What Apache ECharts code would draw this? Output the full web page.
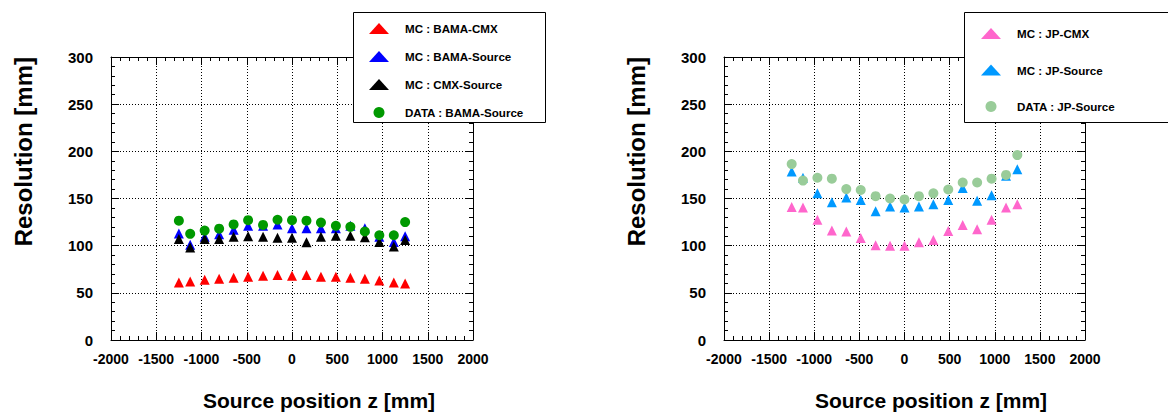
<!DOCTYPE html>
<html>
<head>
<meta charset="utf-8">
<script src="https://cdn.jsdelivr.net/npm/echarts@6/dist/echarts.min.js"></script>
<style>
html,body{margin:0;padding:0;background:#fff;}
#chart{width:1168px;height:412px;}
</style>
</head>
<body>
<div id="chart"></div>
<script>
// ---- data ----
const zPositions = [-1250, -1125, -965, -805, -645, -485, -320, -160, 0, 160, 320, 485, 645, 805, 965, 1125, 1250];

const mcBamaCmx    = [61, 62, 64, 65, 66, 67, 68, 69, 68, 69, 67, 67, 66, 65, 63, 61, 60];
const mcBamaSource = [113, 101, 109.5, 112, 117, 121, 121, 122.5, 118.5, 118.5, 118.5, 118.5, 121, 118.5, 109.5, 104, 110];
const mcCmxSource  = [107, 98, 107, 107, 109.5, 110, 109.5, 108.5, 108.5, 103.5, 109.5, 110.5, 110.5, 109, 104, 99, 106];
const dataBamaSource = [126.5, 112.5, 116, 118, 122.5, 127, 122, 127.5, 127, 126.5, 124.5, 121, 120, 115, 111, 111, 125];

const mcJpCmx     = [141, 140.5, 127.5, 116, 115, 108, 100.5, 100, 100, 103.5, 106, 115.5, 122, 117.5, 127.5, 140.5, 144];
const mcJpSource  = [178.5, 172, 155.5, 146, 151, 148.5, 136.5, 141.5, 140.5, 141.5, 144, 148.5, 161, 147.5, 153.5, 174, 181];
const dataJpSource = [186.5, 169, 172, 171, 160, 159, 152.5, 150, 149, 152.5, 155.5, 159.5, 167, 167, 171, 175, 196];

const leftNames  = ['MC : BAMA-CMX', 'MC : BAMA-Source', 'MC : CMX-Source', 'DATA : BAMA-Source'];
const rightNames = ['MC : JP-CMX', 'MC : JP-Source', 'DATA : JP-Source'];
const xTitle = 'Source position z [mm]';
const yTitle = 'Resolution [mm]';
const xMin = -2000, xMax = 2000, xStep = 500;
const yMin = 0, yMax = 300, yStep = 50;

// ---- chart ----
const FONT = 'Liberation Sans, Arial, sans-serif';
const pairs = vals => zPositions.map((z, i) => [z, vals[i]]);

function xAx(gi, pos, labels) {
  return {
    type: 'value', gridIndex: gi, position: pos, min: xMin, max: xMax, interval: xStep,
    axisLine: {show: true, onZero: false, lineStyle: {color: '#000', width: 1}},
    axisTick: {show: true, inside: true, length: 8, lineStyle: {color: '#000'}},
    minorTick: {show: true, splitNumber: 5, length: 4, lineStyle: {color: '#000'}},
    axisLabel: {show: labels, color: '#000', fontFamily: FONT, fontWeight: 'bold', fontSize: 14, margin: 12,
                showMinLabel: true, showMaxLabel: true, formatter: v => String(v)},
    splitLine: {show: labels, lineStyle: {color: '#000', type: [1, 2], width: 1}},
    minorSplitLine: {show: false}
  };
}
function yAx(gi, pos, labels) {
  return {
    type: 'value', gridIndex: gi, position: pos, min: yMin, max: yMax, interval: yStep,
    axisLine: {show: true, onZero: false, lineStyle: {color: '#000', width: 1}},
    axisTick: {show: true, inside: true, length: 8, lineStyle: {color: '#000'}},
    minorTick: {show: true, splitNumber: 5, length: 4, lineStyle: {color: '#000'}},
    axisLabel: {show: labels, color: '#000', fontFamily: FONT, fontWeight: 'bold', fontSize: 15, margin: 18,
                formatter: v => String(v)},
    splitLine: {show: labels, lineStyle: {color: '#000', type: [1, 2], width: 1}},
    minorSplitLine: {show: false}
  };
}
function sc(name, vals, gi, symbol, color) {
  return {
    type: 'scatter', name, data: pairs(vals), xAxisIndex: gi, yAxisIndex: gi,
    symbol, symbolSize: 10, itemStyle: {color, opacity: 1}, silent: true
  };
}

const chart = echarts.init(document.getElementById('chart'), null, {renderer: 'svg'});
const legendText = {color: '#000', fontFamily: FONT, fontWeight: 'bold', fontSize: 11.6, padding: [0, 0, 0, 11]};

chart.setOption({
  animation: false,
  backgroundColor: '#fff',
  grid: [
    {left: 111, top: 57, width: 362, height: 283},
    {left: 724, top: 57, width: 361, height: 283}
  ],
  xAxis: [xAx(0, 'bottom', true), xAx(1, 'bottom', true), xAx(0, 'top', false), xAx(1, 'top', false)],
  yAxis: [yAx(0, 'left', true), yAx(1, 'left', true), yAx(0, 'right', false), yAx(1, 'right', false)],
  legend: [
    {data: leftNames.map((n, i) => ({name: n, icon: i === 3 ? 'circle' : 'triangle'})),
     orient: 'vertical', left: 369, top: 22.5, itemWidth: 20, itemHeight: 11, itemGap: 16,
     padding: 0, selectedMode: false, textStyle: legendText, z: 60},
    {data: rightNames.map((n, i) => ({name: n, icon: i === 2 ? 'circle' : 'triangle'})),
     orient: 'vertical', left: 981, top: 27.5, itemWidth: 20, itemHeight: 11, itemGap: 24.5,
     padding: 0, selectedMode: false, textStyle: legendText, z: 60}
  ],
  series: [
    sc(leftNames[0], mcBamaCmx, 0, 'triangle', '#ff0000'),
    sc(leftNames[1], mcBamaSource, 0, 'triangle', '#0000ff'),
    sc(leftNames[2], mcCmxSource, 0, 'triangle', '#000000'),
    sc(leftNames[3], dataBamaSource, 0, 'circle', '#009900'),
    sc(rightNames[0], mcJpCmx, 1, 'triangle', '#ff66cc'),
    sc(rightNames[1], mcJpSource, 1, 'triangle', '#0099ff'),
    sc(rightNames[2], dataJpSource, 1, 'circle', '#99cc99')
  ],
  graphic: [
    {type: 'rect', z: 50, shape: {x: 353.5, y: 12.5, width: 192, height: 110},
     style: {fill: '#fff', stroke: '#000', lineWidth: 1}},
    {type: 'rect', z: 50, shape: {x: 964.5, y: 12.5, width: 220, height: 110},
     style: {fill: '#fff', stroke: '#000', lineWidth: 1}},
    {type: 'text', z: 50, x: 23, y: 57, rotation: Math.PI / 2,
     style: {text: yTitle, font: 'bold 24px ' + FONT, fill: '#000', textAlign: 'right', textVerticalAlign: 'middle'}},
    {type: 'text', z: 50, x: 636, y: 57, rotation: Math.PI / 2,
     style: {text: yTitle, font: 'bold 24px ' + FONT, fill: '#000', textAlign: 'right', textVerticalAlign: 'middle'}},
    {type: 'text', z: 50, x: 319, y: 400,
     style: {text: xTitle, font: 'bold 21px ' + FONT, fill: '#000', textAlign: 'center', textVerticalAlign: 'middle'}},
    {type: 'text', z: 50, x: 931, y: 400,
     style: {text: xTitle, font: 'bold 21px ' + FONT, fill: '#000', textAlign: 'center', textVerticalAlign: 'middle'}}
  ]
});
</script>
</body>
</html>
